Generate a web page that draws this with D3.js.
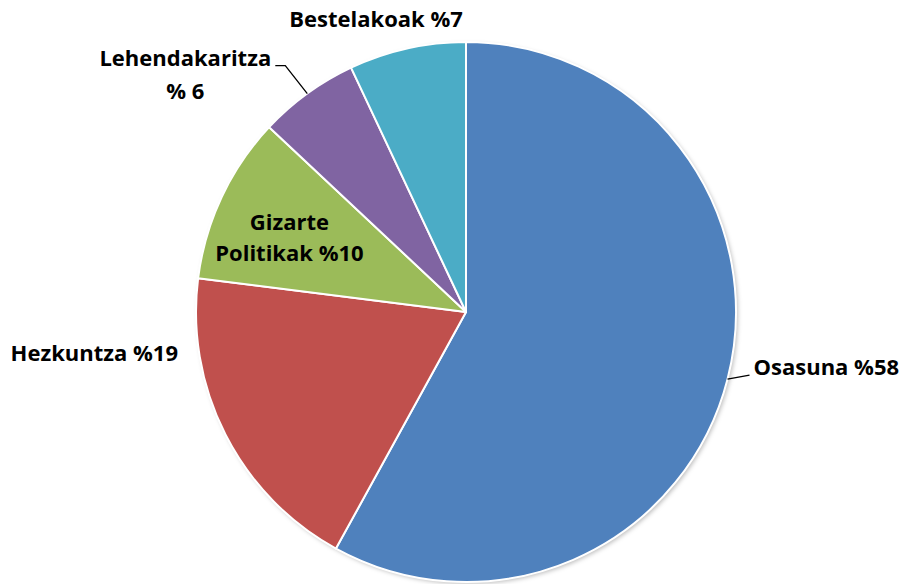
<!DOCTYPE html>
<html>
<head>
<meta charset="utf-8">
<script src="https://cdn.jsdelivr.net/npm/d3@7"></script>
<style>
  body { margin: 0; background: #fff; }
  text { font-family: "Open Sans", Lato, sans-serif; font-weight: bold; fill: #000; }
</style>
</head>
<body>
<div id="chart"></div>
<script>
// values (percent)
var categories = ['Osasuna', 'Hezkuntza', 'Gizarte Politikak', 'Lehendakaritza', 'Bestelakoak'];
var values = [58, 19, 10, 6, 7];
var colors = ['#4f81bd', '#c0504d', '#9bbb59', '#8064a2', '#4bacc6'];
var labelLines = [
  ['Osasuna %58'],
  ['Hezkuntza %19'],
  ['Gizarte', 'Politikak %10'],
  ['Lehendakaritza', '% 6'],
  ['Bestelakoak %7']
];

var width = 905, height = 584;
var cx = 466, cy = 312, radius = 270;

var svg = d3.select('#chart')
  .append('svg')
  .attr('width', width)
  .attr('height', height);

var defs = svg.append('defs');
var shadow = defs.append('filter')
  .attr('id', 'shadow')
  .attr('x', '-10%').attr('y', '-10%')
  .attr('width', '120%').attr('height', '120%');
shadow.append('feDropShadow')
  .attr('dx', 2).attr('dy', 2)
  .attr('stdDeviation', 2)
  .attr('flood-color', '#000')
  .attr('flood-opacity', 0.25);

var g = svg.append('g')
  .attr('transform', 'translate(' + cx + ',' + cy + ')');

var pie = d3.pie()
  .sort(null)
  .value(function (d) { return d; });

var arcs = pie(values);

var arc = d3.arc()
  .innerRadius(0)
  .outerRadius(radius);

g.append('circle')
  .attr('r', radius)
  .attr('fill', '#fff')
  .attr('filter', 'url(#shadow)');

g.selectAll('path.slice')
  .data(arcs)
  .enter()
  .append('path')
  .attr('class', 'slice')
  .attr('d', arc)
  .attr('fill', function (d, i) { return colors[i]; })
  .attr('stroke', '#fff')
  .attr('stroke-width', 2)
  .attr('stroke-linejoin', 'round');

// label placement (relative to pie centre)
var fontSize = 22, lineH = 32;
function edgePoint(d, k) {
  var a = (d.startAngle + d.endAngle) / 2;
  return [Math.sin(a) * radius * k, -Math.cos(a) * radius * k];
}

var labels = g.append('g');

// Osasuna: leader line then text to the right
(function () {
  var p = edgePoint(arcs[0], 1);
  labels.append('path')
    .attr('d', 'M' + p[0] + ',' + p[1] + 'L' + (p[0] + 22) + ',' + (p[1] - 4))
    .attr('fill', 'none').attr('stroke', '#000').attr('stroke-width', 1.3);
  labels.append('text')
    .attr('x', p[0] + 26).attr('y', p[1] - 4)
    .attr('font-size', fontSize)
    .text(labelLines[0][0]);
})();

// Hezkuntza: text to the left of the pie
labels.append('text')
  .attr('x', -radius - 18).attr('y', 49)
  .attr('text-anchor', 'end')
  .attr('font-size', fontSize)
  .text(labelLines[1][0]);

// Gizarte Politikak: inside the slice
(function () {
  var c = edgePoint(arcs[2], 0.69);
  labels.append('text')
    .attr('x', c[0] - 8).attr('y', c[1] - 3)
    .attr('text-anchor', 'middle')
    .attr('font-size', fontSize)
    .selectAll('tspan')
    .data(labelLines[2])
    .enter()
    .append('tspan')
    .attr('x', c[0] - 8)
    .attr('dy', function (d, i) { return i === 0 ? 0 : 31; })
    .text(function (d) { return d; });
})();

// Lehendakaritza: elbow leader line
(function () {
  var p = edgePoint(arcs[3], 1);
  labels.append('path')
    .attr('d', 'M' + p[0] + ',' + p[1] + 'L' + (p[0] - 22) + ',' + (p[1] - 28) + 'L' + (p[0] - 32) + ',' + (p[1] - 28))
    .attr('fill', 'none').attr('stroke', '#000').attr('stroke-width', 1.3);
  labels.append('text')
    .attr('x', p[0] - 122).attr('y', p[1] - 28)
    .attr('text-anchor', 'middle')
    .attr('font-size', fontSize)
    .selectAll('tspan')
    .data(labelLines[3])
    .enter()
    .append('tspan')
    .attr('x', p[0] - 122)
    .attr('dy', function (d, i) { return i === 0 ? 0 : 33; })
    .text(function (d) { return d; });
})();

// Bestelakoak: above the pie
labels.append('text')
  .attr('x', -90).attr('y', -285)
  .attr('text-anchor', 'middle')
  .attr('font-size', fontSize)
  .text(labelLines[4][0]);
</script>
</body>
</html>
